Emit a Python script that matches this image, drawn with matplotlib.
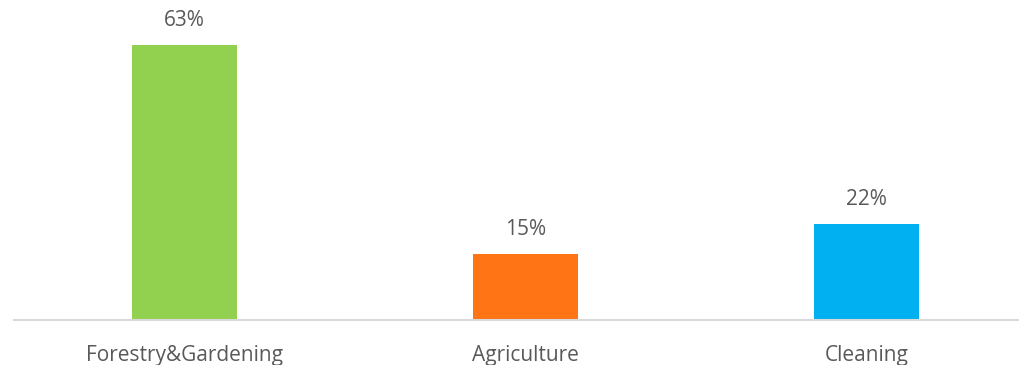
import matplotlib
matplotlib.use("Agg")
import matplotlib.pyplot as plt

categories = ["Forestry&Gardening", "Agriculture", "Cleaning"]
shares = [63, 15, 22]
colors = ["#92D050", "#FF7415", "#00B0F0"]

fig = plt.figure(figsize=(10.2, 3.65), dpi=100)
ax = fig.add_axes([14 / 1020, 45 / 365, 1006 / 1020, 306 / 365])

x = range(len(categories))
bars = ax.bar(x, shares, width=0.31, color=colors, zorder=2)

for bar, v in zip(bars, shares):
    ax.text(bar.get_x() + bar.get_width() / 2, v + 3.2, f"{v}%",
            ha="center", va="bottom", fontsize=15, color="#595959",
            family="Open Sans")

ax.set_xlim(-0.5, 2.45)
ax.set_ylim(0, 70)
ax.set_xticks(list(x))
ax.set_xticklabels(categories, fontsize=15, color="#595959", family="Open Sans")
ax.tick_params(axis="x", length=0, pad=18)
ax.set_yticks([])
for side in ["top", "left", "right"]:
    ax.spines[side].set_visible(False)
ax.spines["bottom"].set_color("#D9D9D9")
ax.spines["bottom"].set_linewidth(1.5)

fig.savefig("out.png", dpi=100)
